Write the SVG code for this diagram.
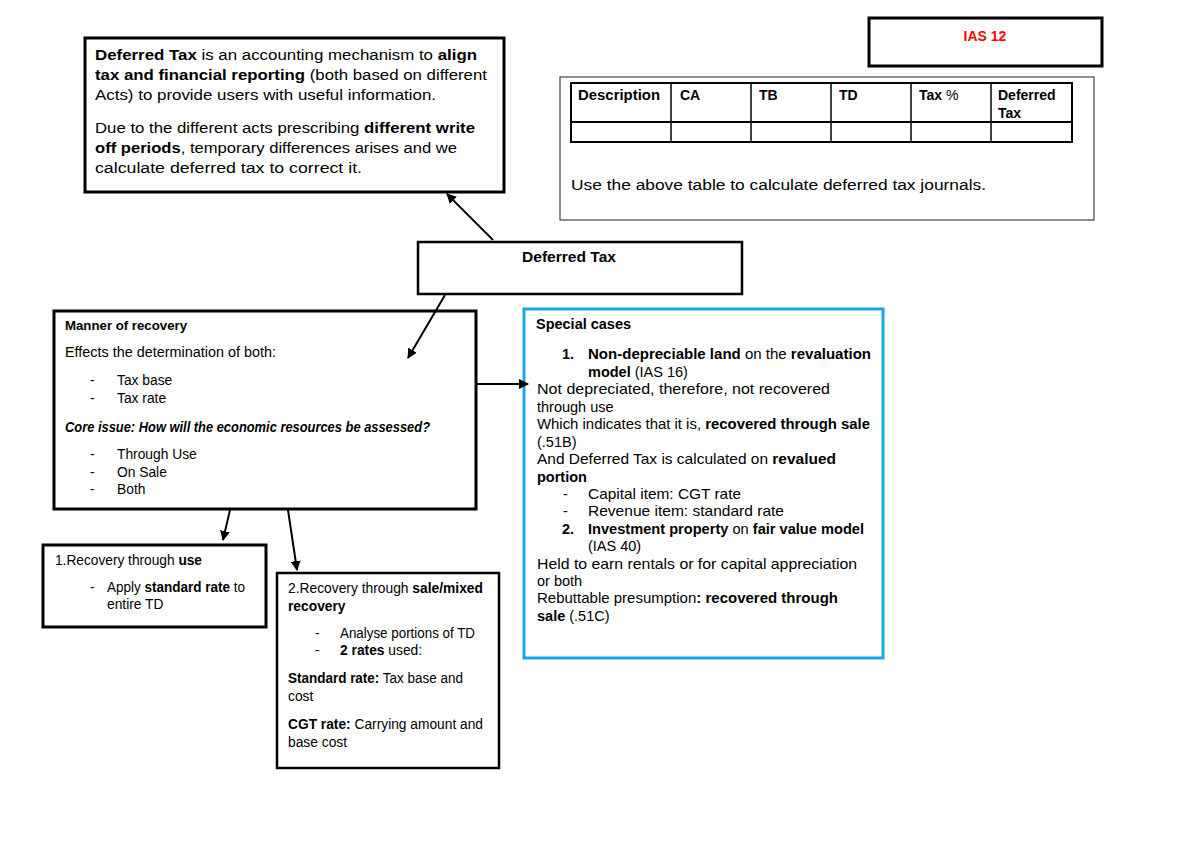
<svg xmlns="http://www.w3.org/2000/svg" width="1200" height="849" viewBox="0 0 1200 849">
<style>
text{font-family:"Liberation Sans",Arial,sans-serif;fill:#000}
.b{font-weight:bold}
.box{fill:#fff;stroke:#000;stroke-width:3}
.thin{fill:#fff;stroke:#000;stroke-width:1.2}
.t15{font-size:15.5px}
.t14{font-size:14px}
.s15{font-size:14.5px}
.t13{font-size:13.8px}
.t12{font-size:12.5px}
.conn{stroke:#000;stroke-width:2;fill:none}
</style>
<defs>
<marker id="ah" viewBox="0 0 10 10" refX="9" refY="5" markerWidth="5" markerHeight="5" orient="auto" markerUnits="strokeWidth">
<path d="M0,0 L10,5 L0,10 z" fill="#000"/>
</marker>
</defs>
<rect width="1200" height="849" fill="#fff"/>

<g id="definition">
<rect class="box" x="85" y="38" width="419" height="154"/>
<text class="t15" x="95" y="60" textLength="382" lengthAdjust="spacingAndGlyphs"><tspan class="b">Deferred Tax</tspan> is an accounting mechanism to <tspan class="b">align</tspan></text>
<text class="t15" x="95" y="80" textLength="392" lengthAdjust="spacingAndGlyphs"><tspan class="b">tax and financial reporting</tspan> (both based on different</text>
<text class="t15" x="95" y="100" textLength="341" lengthAdjust="spacingAndGlyphs">Acts) to provide users with useful information.</text>
<text class="t15" x="95" y="133" textLength="380" lengthAdjust="spacingAndGlyphs">Due to the different acts prescribing <tspan class="b">different write</tspan></text>
<text class="t15" x="95" y="153" textLength="362" lengthAdjust="spacingAndGlyphs"><tspan class="b">off periods</tspan>, temporary differences arises and we</text>
<text class="t15" x="95" y="173" textLength="267" lengthAdjust="spacingAndGlyphs">calculate deferred tax to correct it.</text>
</g>

<g id="ias12">
<rect class="box" x="869" y="18" width="233" height="48"/>
<text class="t14 b" x="985" y="41" text-anchor="middle" style="fill:#ff0000">IAS 12</text>
</g>

<g id="table">
<rect class="thin" x="560" y="77" width="534" height="143" style="stroke:#444"/>
<rect x="571" y="83" width="501" height="59" fill="none" stroke="#000" stroke-width="2"/>
<line x1="571" y1="122" x2="1072" y2="122" stroke="#000" stroke-width="2"/>
<g stroke="#000" stroke-width="1.5">
<line x1="671" y1="83" x2="671" y2="142"/>
<line x1="751" y1="83" x2="751" y2="142"/>
<line x1="831" y1="83" x2="831" y2="142"/>
<line x1="911" y1="83" x2="911" y2="142"/>
<line x1="991" y1="83" x2="991" y2="142"/>
</g>
<text class="t14 b" x="578" y="100" textLength="82" lengthAdjust="spacingAndGlyphs">Description</text>
<text class="t14 b" x="680" y="100">CA</text>
<text class="t14 b" x="759" y="100">TB</text>
<text class="t14 b" x="839" y="100">TD</text>
<text class="t14" x="919" y="100"><tspan class="b">Tax</tspan> %</text>
<text class="t14 b" x="998" y="100">Deferred</text>
<text class="t14 b" x="998" y="118">Tax</text>
<text class="t14" x="571" y="190" textLength="415" lengthAdjust="spacingAndGlyphs">Use the above table to calculate deferred tax journals.</text>
</g>

<g id="deferred-tax">
<rect class="box" x="418" y="242" width="324" height="52" style="stroke-width:2.5"/>
<text class="t14 b" x="522" y="262" textLength="94" lengthAdjust="spacingAndGlyphs">Deferred Tax</text>
</g>

<g id="manner">
<rect class="box" x="54" y="311" width="422" height="198"/>
<text class="t12 b" x="65" y="330" textLength="122" lengthAdjust="spacingAndGlyphs">Manner of recovery</text>
<text class="t13" x="65" y="357" textLength="211" lengthAdjust="spacingAndGlyphs">Effects the determination of both:</text>
<text class="t13" x="90" y="385">-</text><text class="t13" x="117" y="385">Tax base</text>
<text class="t13" x="90" y="403">-</text><text class="t13" x="117" y="403">Tax rate</text>
<text class="t13 b" x="65" y="432" font-style="italic" textLength="365" lengthAdjust="spacingAndGlyphs">Core issue: How will the economic resources be assessed?</text>
<text class="t13" x="90" y="459">-</text><text class="t13" x="117" y="459">Through Use</text>
<text class="t13" x="90" y="477">-</text><text class="t13" x="117" y="477">On Sale</text>
<text class="t13" x="90" y="494">-</text><text class="t13" x="117" y="494">Both</text>
</g>

<g id="use">
<rect class="box" x="43" y="545" width="223" height="82"/>
<text class="t13" x="55" y="565" textLength="147" lengthAdjust="spacingAndGlyphs">1.Recovery through <tspan class="b">use</tspan></text>
<text class="t13" x="90" y="592">-</text><text class="t13" x="107" y="592" textLength="138" lengthAdjust="spacingAndGlyphs">Apply <tspan class="b">standard rate</tspan> to</text>
<text class="t13" x="107" y="609">entire TD</text>
</g>

<g id="sale">
<rect class="box" x="277" y="573" width="222" height="195" style="stroke-width:2.5"/>
<text class="t13" x="288" y="593" textLength="195" lengthAdjust="spacingAndGlyphs">2.Recovery through <tspan class="b">sale/mixed</tspan></text>
<text class="t13 b" x="288" y="611">recovery</text>
<text class="t13" x="315" y="638">-</text><text class="t13" x="340" y="638" textLength="135" lengthAdjust="spacingAndGlyphs">Analyse portions of TD</text>
<text class="t13" x="315" y="655">-</text><text class="t13" x="340" y="655"><tspan class="b">2 rates</tspan> used:</text>
<text class="t13" x="288" y="683" textLength="175" lengthAdjust="spacingAndGlyphs"><tspan class="b">Standard rate:</tspan> Tax base and</text>
<text class="t13" x="288" y="701">cost</text>
<text class="t13" x="288" y="729" textLength="195" lengthAdjust="spacingAndGlyphs"><tspan class="b">CGT rate:</tspan> Carrying amount and</text>
<text class="t13" x="288" y="747">base cost</text>
</g>

<g id="special">
<rect x="524" y="309" width="359" height="349" fill="#fff" stroke="#19a6e6" stroke-width="3"/>
<text class="t13 b" x="536" y="329" textLength="95" lengthAdjust="spacingAndGlyphs">Special cases</text>
<text class="s15 b" x="562" y="359">1.</text>
<text class="s15" x="588" y="359" textLength="283" lengthAdjust="spacingAndGlyphs"><tspan class="b">Non-depreciable land</tspan> on the <tspan class="b">revaluation</tspan></text>
<text class="s15" x="588" y="377"><tspan class="b">model</tspan> (IAS 16)</text>
<text class="s15" x="537" y="394" textLength="293" lengthAdjust="spacingAndGlyphs">Not depreciated, therefore, not recovered</text>
<text class="s15" x="537" y="412">through use</text>
<text class="s15" x="537" y="429" textLength="333" lengthAdjust="spacingAndGlyphs">Which indicates that it is, <tspan class="b">recovered through sale</tspan></text>
<text class="s15" x="537" y="447">(.51B)</text>
<text class="s15" x="537" y="464" textLength="299" lengthAdjust="spacingAndGlyphs">And Deferred Tax is calculated on <tspan class="b">revalued</tspan></text>
<text class="s15 b" x="537" y="482">portion</text>
<text class="s15" x="563" y="499">-</text><text class="s15" x="588" y="499" textLength="153" lengthAdjust="spacingAndGlyphs">Capital item: CGT rate</text>
<text class="s15" x="563" y="516">-</text><text class="s15" x="588" y="516" textLength="196" lengthAdjust="spacingAndGlyphs">Revenue item: standard rate</text>
<text class="s15 b" x="562" y="534">2.</text>
<text class="s15" x="588" y="534" textLength="276" lengthAdjust="spacingAndGlyphs"><tspan class="b">Investment property</tspan> on <tspan class="b">fair value model</tspan></text>
<text class="s15" x="588" y="551">(IAS 40)</text>
<text class="s15" x="537" y="569" textLength="320" lengthAdjust="spacingAndGlyphs">Held to earn rentals or for capital appreciation</text>
<text class="s15" x="537" y="586">or both</text>
<text class="s15" x="537" y="603" textLength="301" lengthAdjust="spacingAndGlyphs">Rebuttable presumption<tspan class="b">:</tspan> <tspan class="b">recovered through</tspan></text>
<text class="s15" x="537" y="621"><tspan class="b">sale</tspan> (.51C)</text>
</g>

<g id="connectors">
<line class="conn" x1="493" y1="240" x2="447" y2="194" marker-end="url(#ah)"/>
<line class="conn" x1="445" y1="295" x2="408" y2="358" marker-end="url(#ah)"/>
<line class="conn" x1="477" y1="384" x2="528" y2="384" marker-end="url(#ah)"/>
<line class="conn" x1="230" y1="510" x2="223" y2="540" marker-end="url(#ah)"/>
<line class="conn" x1="288" y1="510" x2="297" y2="570" marker-end="url(#ah)"/>
</g>
</svg>
